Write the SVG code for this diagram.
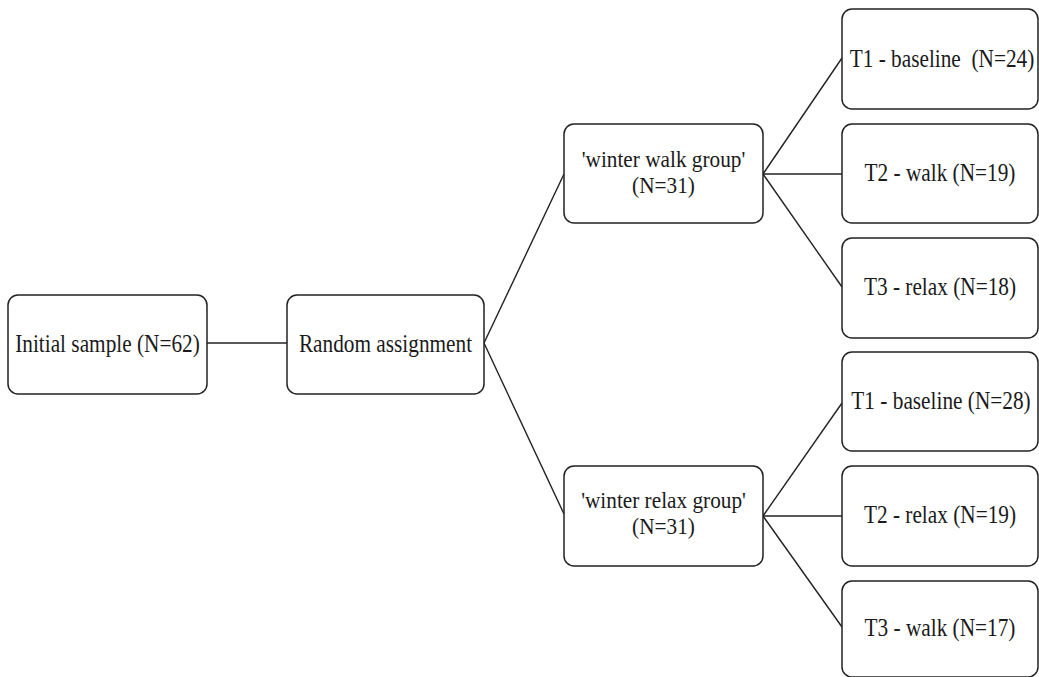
<svg xmlns="http://www.w3.org/2000/svg" width="1039" height="677" viewBox="0 0 1039 677">
<style>
.box{fill:#fff;stroke:#222;stroke-width:1.5}
.t{font-family:"Liberation Serif","Times New Roman",serif;font-size:25.5px;fill:#1a1a1a;text-anchor:middle}
.t2{font-size:23px}
.c line{stroke:#222;stroke-width:1.4}
</style>
<rect width="1039" height="677" fill="#fff"/>
<g class="c" id="connectors">
<line x1="207" y1="343" x2="287" y2="343"/>
<line x1="484" y1="343" x2="564" y2="174"/>
<line x1="484" y1="343" x2="564" y2="514"/>
<line x1="763" y1="174" x2="842" y2="58"/>
<line x1="763" y1="174" x2="842" y2="174"/>
<line x1="763" y1="174" x2="842" y2="287"/>
<line x1="763" y1="516" x2="842" y2="403"/>
<line x1="763" y1="516" x2="842" y2="516"/>
<line x1="763" y1="516" x2="842" y2="627"/>
</g>
<g id="initial"><rect class="box" x="8" y="295" width="199" height="99" rx="10"/><text class="t" transform="translate(107.5,352) scale(0.835,1)">Initial sample (N=62)</text></g>
<g id="random"><rect class="box" x="287" y="295" width="197" height="99" rx="10"/><text class="t" transform="translate(385.5,352) scale(0.835,1)">Random assignment</text></g>
<g id="walkgroup"><rect class="box" x="564" y="124" width="199" height="99" rx="10"/><text class="t t2" transform="translate(663.5,167) scale(0.925,1)">'winter walk group'</text><text class="t t2" transform="translate(663.5,193) scale(0.925,1)">(N=31)</text></g>
<g id="relaxgroup"><rect class="box" x="564" y="466" width="199" height="100" rx="10"/><text class="t t2" transform="translate(663.5,508) scale(0.925,1)">'winter relax group'</text><text class="t t2" transform="translate(663.5,534) scale(0.925,1)">(N=31)</text></g>
<g id="w-t1"><rect class="box" x="842" y="9" width="196" height="100" rx="10"/><text class="t" transform="translate(942,67) scale(0.835,1)" xml:space="preserve">T1 - baseline  (N=24)</text></g>
<g id="w-t2"><rect class="box" x="842" y="124" width="196" height="99" rx="10"/><text class="t" transform="translate(940,181) scale(0.835,1)">T2 - walk (N=19)</text></g>
<g id="w-t3"><rect class="box" x="842" y="238" width="196" height="100" rx="10"/><text class="t" transform="translate(940,295) scale(0.835,1)">T3 - relax (N=18)</text></g>
<g id="r-t1"><rect class="box" x="842" y="352" width="196" height="99" rx="10"/><text class="t" transform="translate(941,409) scale(0.835,1)">T1 - baseline (N=28)</text></g>
<g id="r-t2"><rect class="box" x="842" y="466" width="196" height="100" rx="10"/><text class="t" transform="translate(940,523) scale(0.835,1)">T2 - relax (N=19)</text></g>
<g id="r-t3"><rect class="box" x="842" y="581" width="196" height="96" rx="10"/><text class="t" transform="translate(940,636) scale(0.835,1)">T3 - walk (N=17)</text></g>
</svg>
